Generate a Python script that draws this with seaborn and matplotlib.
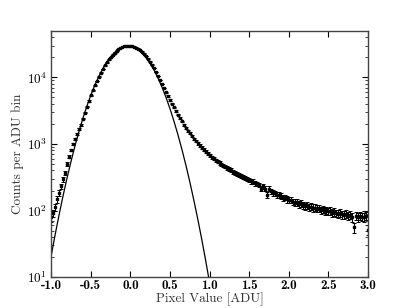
# Pixel value histogram of a dark frame: counts per ADU bin with a Gaussian
# read-noise model over the top. Log y axis, classic look.

import numpy as np
import matplotlib
matplotlib.use("Agg")
import matplotlib.pyplot as plt
import seaborn as sns

# histogram bin centres (ADU), 0.025 wide
bin_centers = np.linspace(-1.0, 3.0, 161)

# counts per bin
counts = [
    79, 91, 112, 148, 186, 234, 295, 372,
    501, 646, 813, 1000, 1202, 1413, 1660, 1950,
    2399, 2951, 3631, 4416, 5370, 6383, 7586, 8810,
    10230, 11750, 13400, 15140, 16830, 18620, 20320, 22030,
    23610, 25120, 26420, 27540, 28510, 29110, 29510, 29650,
    29650, 29380, 28840, 27990, 26920, 25700, 24270, 22650,
    20890, 19050, 17180, 15490, 13800, 12020, 10470, 9120,
    7943, 6918, 6026, 5248, 4571, 4027, 3548, 3126,
    2754, 2455, 2188, 1950, 1758, 1585, 1445, 1318,
    1202, 1109, 1023, 944, 881, 822, 767, 716,
    676, 631, 603, 569, 543, 519, 495, 473,
    457, 437, 417, 403, 385, 372, 355, 347,
    331, 320, 309, 299, 288, 275, 272, 257,
    251, 243, 214, 234, 214, 170, 214, 195,
    186, 182, 174, 170, 164, 155, 158, 148,
    145, 146, 135, 132, 133, 126, 129, 120,
    117, 120, 112, 115, 110, 111, 107, 108,
    102, 105, 100, 102, 98, 99, 93, 97,
    91, 89, 93, 88, 86, 90, 83, 87,
    79, 56, 83, 79, 84, 81, 80, 83,
    52,
]

# error bar half-heights per bin
count_errors = [
    12, 12, 14, 16, 18, 20, 22, 25,
    29, 33, 37, 41, 45, 49, 53, 57,
    64, 71, 78, 86, 95, 104, 113, 122,
    131, 141, 150, 160, 169, 177, 185, 193,
    200, 206, 211, 216, 219, 222, 223, 224,
    224, 223, 221, 217, 213, 208, 203, 196,
    188, 179, 170, 162, 153, 143, 133, 124,
    116, 108, 101, 94, 88, 82, 77, 73,
    68, 64, 61, 57, 55, 52, 49, 47,
    45, 43, 42, 40, 39, 37, 36, 35,
    34, 33, 32, 31, 30, 30, 29, 28,
    28, 27, 27, 26, 26, 25, 25, 24,
    24, 23, 23, 22, 22, 22, 21, 21,
    21, 20, 19, 20, 19, 17, 19, 18,
    18, 18, 17, 17, 17, 16, 16, 16,
    16, 16, 15, 15, 15, 15, 15, 14,
    14, 14, 14, 14, 14, 14, 13, 14,
    13, 13, 13, 13, 13, 13, 13, 13,
    12, 12, 13, 12, 12, 12, 12, 12,
    12, 10, 12, 12, 12, 12, 12, 12,
    9,
]

# model curve, sampled every 0.05 ADU
model_x = [
    -1.00, -0.95, -0.90, -0.85, -0.80, -0.75, -0.70, -0.65, -0.60, -0.55,
    -0.50, -0.45, -0.40, -0.35, -0.30, -0.25, -0.20, -0.15, -0.10, -0.05,
    0.00, 0.05, 0.10, 0.15, 0.20, 0.25, 0.30, 0.35, 0.40, 0.45,
    0.50, 0.55, 0.60, 0.65, 0.70, 0.75, 0.80, 0.85, 0.90, 0.95,
    1.00, 1.05,
]
model_y = [
    20.8, 43.1, 85.9, 164.9, 304.8, 540.8, 925, 1521, 2410, 3664,
    5370, 7570, 10260, 13400, 16830, 20320, 23610, 26420, 28440, 29440,
    29310, 28110, 25880, 22960, 19630, 16110, 12740, 9680, 7100, 4990,
    3380, 2200, 1380, 834, 484, 270, 145, 75.2, 37.4, 17.9,
    8.2, 3.7,
]

xtick_values = [-1.0, -0.5, 0.0, 0.5, 1.0, 1.5, 2.0, 2.5, 3.0]
xtick_labels = ["-1.0", "-0.5", "0.0", "0.5", "1.0", "1.5", "2.0", "2.5", "3.0"]

sns.set_style("ticks")
plt.rcParams.update({
    "font.family": "serif",
    "font.serif": ["cmr10"],
    "mathtext.fontset": "cm",
    "axes.unicode_minus": False,
    "axes.formatter.use_mathtext": True,
    "xtick.direction": "in",
    "ytick.direction": "in",
    "xtick.top": True,
    "ytick.right": True,
    "xtick.major.size": 4,
    "ytick.major.size": 4,
    "ytick.minor.size": 2,
    "xtick.major.pad": 2,
    "ytick.major.pad": 3,
    "axes.edgecolor": "#444444",
    "axes.linewidth": 1.0,
})

fig, ax = plt.subplots(figsize=(4.09, 3.08), dpi=100)
fig.subplots_adjust(left=0.125, right=0.9, bottom=0.1, top=0.9)
ax.set_yscale("log")

# Gaussian model
sns.lineplot(x=model_x, y=model_y, color="black", linewidth=0.9, ax=ax)

# measured histogram with error bars
ax.errorbar(bin_centers, counts, yerr=count_errors, fmt="s", color="black",
            markersize=1.8, elinewidth=0.8, capsize=1.3, capthick=0.7)

ax.set_xlim(-1.0, 3.0)
ax.set_ylim(10, 5e4)
ax.set_xticks(xtick_values)
ax.set_xticklabels(xtick_labels, fontfamily="cmb10", fontsize=9.5)
ax.tick_params(axis="x", which="minor", bottom=False, top=False)
ax.tick_params(axis="y", colors="black", labelsize=9.5)
ax.tick_params(axis="x", colors="black")

ax.set_xlabel("Pixel Value [ADU]", fontsize=9.5, color="#333333", labelpad=0)
ax.set_ylabel("Counts per ADU bin", fontsize=9.5, color="#333333", labelpad=2)

fig.savefig("out.png", dpi=100)
